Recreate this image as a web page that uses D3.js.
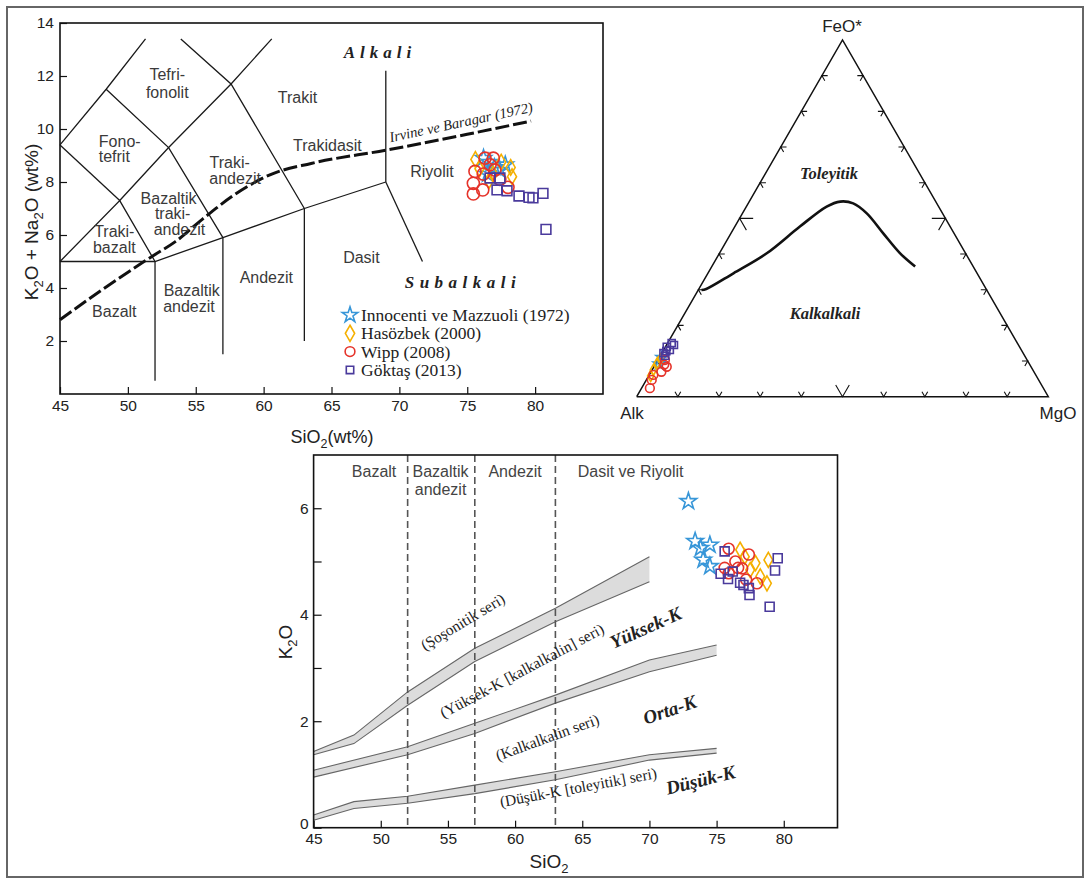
<!DOCTYPE html>
<html>
<head>
<meta charset="utf-8">
<script src="https://cdn.jsdelivr.net/npm/d3@7"></script>
<style>
  body { margin: 0; background: #fff; }
  svg { display: block; }
</style>
</head>
<body>
<svg id="chart" width="1087" height="881"></svg>
<script>
// ---- TAS diagram (SiO2 vs K2O+Na2O) ----
var tasXTicks = [45, 50, 55, 60, 65, 70, 75, 80];
var tasYTicks = [2, 4, 6, 8, 10, 12, 14];

// field boundaries, [SiO2, Na2O+K2O]
var tasLines = [
  [[45, 5], [52, 5], [57, 5.9], [63, 7], [69, 8]],
  [[52, 0.5], [52, 5]],
  [[57, 1.5], [57, 5.9]],
  [[63, 2.0], [63, 7]],
  [[69, 8], [69, 12.2]],
  [[69, 8], [71.7, 5.0]],
  [[45, 5], [49.4, 7.3], [52, 5]],
  [[45, 9.4], [49.4, 7.3]],
  [[45, 9.4], [48.4, 11.5], [51.3, 13.4]],
  [[48.4, 11.5], [53, 9.3], [57, 5.9]],
  [[49.4, 7.3], [53, 9.3], [57.6, 11.7], [60.6, 13.4]],
  [[53.9, 13.4], [57.6, 11.7], [63, 7]]
];

// Irvine & Baragar alkaline / subalkaline divide
var irvineCurve = [[45, 2.8], [48, 3.9], [51.8, 5.2], [53.5, 5.75], [55.5, 6.6], [57.8, 7.5],
  [60.6, 8.3], [63.5, 8.7], [69, 9.2], [75, 9.8], [79.7, 10.3]];

var tasFields = [
  ["Tefri-", 52.9, 12.05], ["fonolit", 52.9, 11.4],
  ["Trakit", 62.5, 11.2],
  ["Fono-", 49.4, 9.55], ["tefrit", 49.0, 8.95],
  ["Traki-", 57.5, 8.75], ["andezit", 57.9, 8.15],
  ["Trakidasit", 64.7, 9.4],
  ["Riyolit", 72.4, 8.4],
  ["Bazaltik", 53.0, 7.4], ["traki-", 53.3, 6.8], ["andezit", 53.8, 6.2],
  ["Traki-", 49.0, 6.15], ["bazalt", 49.0, 5.55],
  ["Dasit", 67.2, 5.15],
  ["Andezit", 60.2, 4.4],
  ["Bazaltik", 54.7, 3.9], ["andezit", 54.5, 3.3],
  ["Bazalt", 49.0, 3.1]
];

var tasStars = [[76.2, 8.9], [76.6, 8.75], [77.0, 8.55], [76.5, 8.3], [77.4, 8.45], [77.8, 8.65]];
var tasDiamonds = [[75.6, 8.85], [75.9, 8.5], [76.9, 8.3], [77.5, 8.75], [78.2, 8.55], [78.3, 8.2], [76.6, 8.05]];
var tasCircles = [[75.57, 8.4], [75.45, 7.95], [75.45, 7.55], [76.14, 7.7], [76.18, 8.3], [76.92, 8.9],
  [76.31, 8.9], [77.04, 8.45], [76.68, 8.65], [77.4, 8.1], [78.0, 7.8]];
var tasSquares = [[76.68, 8.15], [77.41, 8.15], [77.19, 7.7], [77.93, 7.67], [78.81, 7.47],
  [79.55, 7.42], [79.84, 7.4], [80.58, 7.57], [80.8, 6.21]];

var legendNames = ["Innocenti ve Mazzuoli (1972)", "Hasözbek (2000)", "Wipp (2008)", "Göktaş (2013)"];

// ---- AFM ternary, values [FeO*, MgO] in % (Alk = rest) ----
var afmCurve = [[29.9, 0.8], [30.2, 1.8], [34.6, 6.2], [40.2, 11.5], [47.7, 15.8], [53.3, 19.5], [54.7, 22.1],
  [54.2, 25.5], [51.4, 30.2], [45.8, 37.0], [40.2, 43.9], [36.5, 49.4]];
var afmTicks = [10, 20, 30, 40, 50, 60, 70, 80, 90];
var afmStars = [[11.0, 0.6], [9.2, 0.8]];
var afmDiamonds = [[7.5, 0.3], [9.4, 0.3], [5.8, 0.5], [10.5, 0.5]];
var afmCircles = [[2.4, 2.0], [4.7, 1.3], [6.1, 1.0], [8.4, 3.1], [10.3, 1.7], [7.0, 2.5], [9.0, 2.2]];
var afmSquares = [[12.2, 0.4], [14.0, 0.3], [15.0, 1.0], [13.1, 1.5], [11.5, 1.2], [14.5, 1.8], [12.8, 0.8]];

// ---- SiO2 vs K2O ----
var kXTicks = [45, 50, 55, 60, 65, 70, 75, 80];
var kYTicks = [0, 1, 2, 3, 4, 5, 6];
var kDividers = [52, 57, 63];
var kRocks = [["Bazalt", 49.5], ["Bazaltik", 54.45], ["Andezit", 60], ["Dasit ve Riyolit", 68.6]];

var bandShoSi = [45, 48, 52, 57, 63, 70];
var bandShoHi = [1.43, 1.74, 2.55, 3.37, 4.12, 5.09];
var bandShoLo = [1.37, 1.58, 2.30, 3.12, 3.87, 4.62];
var bandMedSi = [45, 52, 57, 63, 70, 75];
var bandMedHi = [1.08, 1.52, 1.96, 2.49, 3.15, 3.43];
var bandMedLo = [0.95, 1.37, 1.77, 2.34, 2.93, 3.24];
var bandLowSi = [45, 48, 52, 57, 63, 70, 75];
var bandLowHi = [0.24, 0.49, 0.59, 0.80, 1.05, 1.37, 1.49];
var bandLowLo = [0.14, 0.36, 0.46, 0.64, 0.90, 1.27, 1.40];

var seriesLabels = [
  ["(Şoşonitik seri)", 56.1, 3.87, -31, false],
  ["(Yüksek-K [kalkalkalin] seri)", 60.5, 2.95, -28, false],
  ["Yüksek-K", 69.7, 3.76, -24, true],
  ["(Kalkalkalin seri)", 62.4, 1.70, -20, false],
  ["Orta-K", 71.5, 2.22, -19, true],
  ["(Düşük-K [toleyitik] seri)", 64.7, 0.76, -10.5, false],
  ["Düşük-K", 73.8, 0.90, -14, true]
];

var kStars = [[72.9, 6.13], [73.4, 5.38], [74.5, 5.31], [74.0, 5.03], [74.5, 4.91], [73.8, 5.25]];
var kDiamonds = [[76.75, 5.22], [77.1, 5.09], [77.5, 4.84], [77.9, 4.97], [78.25, 4.72], [78.85, 5.03], [78.75, 4.59]];
var kCircles = [[75.9, 5.24], [77.4, 5.13], [76.4, 5.0], [75.6, 4.88], [75.9, 4.78], [77.2, 4.66],
  [78.0, 4.59], [76.6, 4.88], [76.9, 4.87]];
var kSquares = [[75.6, 5.19], [75.3, 4.77], [75.85, 4.67], [76.2, 4.81], [76.75, 4.6], [77.0, 4.56],
  [77.4, 4.5], [77.45, 4.37], [78.95, 4.15], [79.35, 4.83], [79.55, 5.06]];

// ---------------------------------------------------------------
var SANS = "'Liberation Sans', Arial, sans-serif";
var SERIF = "'Liberation Serif', 'Times New Roman', serif";
var COL = { star: "#3796d8", diamond: "#f5b000", circle: "#e5332a", square: "#4a3a9c" };
var SHAPE = { star: d3.symbolStar, diamond: d3.symbolDiamond, circle: d3.symbolCircle, square: d3.symbolSquare };

var svg = d3.select("#chart");
svg.append("rect").attr("width", 1087).attr("height", 881).attr("fill", "#fff");
svg.append("rect").attr("x", 7).attr("y", 7).attr("width", 1076).attr("height", 870)
  .attr("fill", "none").attr("stroke", "#666").attr("stroke-width", 2);

function drawPoints(g, pts, kind, size, px, py) {
  g.append("g").selectAll("path").data(pts).enter().append("path")
    .attr("d", d3.symbol().type(SHAPE[kind]).size(size))
    .attr("transform", function (d) { return "translate(" + px(d) + "," + py(d) + ")"; })
    .attr("fill", "none")
    .attr("stroke", COL[kind])
    .attr("stroke-width", 1.6);
}

function styleAxis(g, fs) {
  g.select(".domain").remove();
  g.selectAll(".tick line").attr("stroke", "#111").attr("stroke-width", 1.2);
  g.selectAll(".tick text").attr("font-family", SANS).attr("font-size", fs).attr("fill", "#222");
}

// subscript helper: parts like ["K", "2", "O"] -> alternate normal/sub
function subText(t, parts, subSize) {
  parts.forEach(function (p, i) {
    var ts = t.append("tspan").text(p);
    if (i % 2 === 1) ts.attr("font-size", subSize).attr("dy", 5);
    else if (i > 0) ts.attr("dy", -5);
  });
}

// ================= TAS =================
var tx = d3.scaleLinear().domain([45, 85]).range([60, 603]);
var ty = d3.scaleLinear().domain([0, 14]).range([394, 23]);
var gT = svg.append("g");

gT.append("g").attr("transform", "translate(0,394)")
  .call(d3.axisBottom(tx).tickValues(tasXTicks).tickSizeInner(-7).tickSizeOuter(0).tickPadding(6))
  .call(styleAxis, "15.5px");
gT.append("g").attr("transform", "translate(60,0)")
  .call(d3.axisLeft(ty).tickValues(tasYTicks).tickSizeInner(-7).tickSizeOuter(0).tickPadding(6))
  .call(styleAxis, "15.5px");
gT.append("rect").attr("x", 60).attr("y", 23).attr("width", 543).attr("height", 371)
  .attr("fill", "none").attr("stroke", "#111").attr("stroke-width", 1.6);

var tLine = d3.line().x(function (d) { return tx(d[0]); }).y(function (d) { return ty(d[1]); });
gT.append("g").selectAll("path").data(tasLines).enter().append("path")
  .attr("d", tLine).attr("fill", "none").attr("stroke", "#1a1a1a").attr("stroke-width", 1.3);

gT.append("path").datum(irvineCurve)
  .attr("d", tLine.curve(d3.curveMonotoneX))
  .attr("fill", "none").attr("stroke", "#111").attr("stroke-width", 3)
  .attr("stroke-dasharray", "14,4");
tLine.curve(d3.curveLinear);

gT.append("text").attr("transform", "translate(462,127) rotate(-12)")
  .attr("text-anchor", "middle").attr("font-family", SERIF).attr("font-style", "italic")
  .attr("font-size", "14.5px").attr("fill", "#222").text("Irvine ve Baragar (1972)");

gT.append("g").selectAll("text").data(tasFields).enter().append("text")
  .attr("x", function (d) { return tx(d[1]); })
  .attr("y", function (d) { return ty(d[2]); })
  .attr("dy", "0.35em").attr("text-anchor", "middle")
  .attr("font-family", SANS).attr("font-size", "16px").attr("fill", "#3a3a3a")
  .text(function (d) { return d[0]; });

gT.append("text").attr("x", 380).attr("y", 58).attr("text-anchor", "middle")
  .attr("font-family", SERIF).attr("font-weight", "bold").attr("font-style", "italic")
  .attr("font-size", "17px").attr("letter-spacing", "5px").attr("fill", "#222").text("Alkali");
gT.append("text").attr("x", 463).attr("y", 288).attr("text-anchor", "middle")
  .attr("font-family", SERIF).attr("font-weight", "bold").attr("font-style", "italic")
  .attr("font-size", "17px").attr("letter-spacing", "5.5px").attr("fill", "#222").text("Subalkali");

var tpx = function (d) { return tx(d[0]); }, tpy = function (d) { return ty(d[1]); };
drawPoints(gT, tasStars, "star", 80, tpx, tpy);
drawPoints(gT, tasDiamonds, "diamond", 70, tpx, tpy);
drawPoints(gT, tasCircles, "circle", 115, tpx, tpy);
drawPoints(gT, tasSquares, "square", 95, tpx, tpy);

// legend
var kinds = ["star", "diamond", "circle", "square"];
var lg = gT.append("g").attr("transform", "translate(350,315)");
kinds.forEach(function (k, i) {
  lg.append("path").attr("d", d3.symbol().type(SHAPE[k]).size(k === "square" ? 55 : 75))
    .attr("transform", "translate(0," + (i * 18.3) + ")")
    .attr("fill", "none").attr("stroke", COL[k]).attr("stroke-width", 1.6);
  lg.append("text").attr("x", 11).attr("y", i * 18.3).attr("dy", "0.35em")
    .attr("font-family", SERIF).attr("font-size", "17.5px").attr("fill", "#222")
    .text(legendNames[i]);
});

var tyl = gT.append("text").attr("transform", "translate(38,222) rotate(-90)")
  .attr("text-anchor", "middle").attr("font-family", SANS).attr("font-size", "19px").attr("fill", "#222");
subText(tyl, ["K", "2", "O + Na", "2", "O (wt%)"], "13px");
var txl = gT.append("text").attr("x", 332).attr("y", 443).attr("text-anchor", "middle")
  .attr("font-family", SANS).attr("font-size", "18px").attr("fill", "#222");
subText(txl, ["SiO", "2", "(wt%)"], "12.5px");

// ================= AFM =================
var aX = d3.scaleLinear().domain([0, 100]).range([636.7, 1048.3]);
var aY = d3.scaleLinear().domain([0, 100]).range([396.7, 40]);
var apx = function (d) { return aX(d[1] + d[0] / 2); };
var apy = function (d) { return aY(d[0]); };
var gA = svg.append("g");
var aLine = d3.line().x(apx).y(apy);

gA.append("path").datum([[0, 0], [100, 0], [0, 100], [0, 0]])
  .attr("d", aLine).attr("fill", "none").attr("stroke", "#111").attr("stroke-width", 1.5);

// chevron ticks; each entry: [arm end, vertex, arm end] in [F, M]
var chev = [];
afmTicks.forEach(function (t) {
  var d = t === 50 ? 3.3 : 1.4;
  chev.push([[d, t], [0, t], [d, t - d]]);                       // base
  chev.push([[t, d], [t, 0], [t - d, d]]);                       // Alk-FeO side
  chev.push([[t, 100 - t - d], [t, 100 - t], [t - d, 100 - t]]); // FeO-MgO side
});
gA.append("g").selectAll("path").data(chev).enter().append("path")
  .attr("d", aLine).attr("fill", "none").attr("stroke", "#111").attr("stroke-width", 1.1);

gA.append("path").datum(afmCurve)
  .attr("d", d3.line().x(apx).y(apy).curve(d3.curveCatmullRom))
  .attr("fill", "none").attr("stroke", "#111").attr("stroke-width", 2.6);

gA.append("text").attr("x", 842).attr("y", 32).attr("text-anchor", "middle")
  .attr("font-family", SANS).attr("font-size", "17px").attr("fill", "#222").text("FeO*");
gA.append("text").attr("x", 632).attr("y", 419).attr("text-anchor", "middle")
  .attr("font-family", SANS).attr("font-size", "17px").attr("fill", "#222").text("Alk");
gA.append("text").attr("x", 1058).attr("y", 419).attr("text-anchor", "middle")
  .attr("font-family", SANS).attr("font-size", "17px").attr("fill", "#222").text("MgO");
gA.append("text").attr("x", 829).attr("y", 179).attr("text-anchor", "middle")
  .attr("font-family", SERIF).attr("font-weight", "bold").attr("font-style", "italic")
  .attr("font-size", "16.5px").attr("fill", "#222").text("Toleyitik");
gA.append("text").attr("x", 825).attr("y", 319).attr("text-anchor", "middle")
  .attr("font-family", SERIF).attr("font-weight", "bold").attr("font-style", "italic")
  .attr("font-size", "16.5px").attr("fill", "#222").text("Kalkalkali");

drawPoints(gA, afmStars, "star", 40, apx, apy);
drawPoints(gA, afmDiamonds, "diamond", 35, apx, apy);
drawPoints(gA, afmCircles, "circle", 60, apx, apy);
drawPoints(gA, afmSquares, "square", 50, apx, apy);

// ================= SiO2 - K2O =================
var kx = d3.scaleLinear().domain([45, 84]).range([313.6, 837.5]);
var ky = d3.scaleLinear().domain([0, 7]).range([827.7, 455]);
var gK = svg.append("g");

gK.append("g").attr("transform", "translate(0,827.7)")
  .call(d3.axisBottom(kx).tickValues(kXTicks).tickSizeInner(-7).tickSizeOuter(0).tickPadding(5))
  .call(styleAxis, "15.5px");
gK.append("g").attr("transform", "translate(313.6,0)")
  .call(d3.axisLeft(ky).tickValues(kYTicks).tickSizeInner(-8).tickSizeOuter(0).tickPadding(5)
    .tickFormat(function (d) { return d % 2 === 0 ? d : ""; }))
  .call(styleAxis, "15.5px")
  .selectAll(".tick text").filter(function (d) { return d === 0; }).attr("dy", "0.05em");

function band(si, hi, lo) {
  return si.map(function (s, i) { return { x: s, hi: hi[i], lo: lo[i] }; });
}
var bands = [band(bandShoSi, bandShoHi, bandShoLo), band(bandMedSi, bandMedHi, bandMedLo), band(bandLowSi, bandLowHi, bandLowLo)];
var bArea = d3.area().x(function (d) { return kx(d.x); })
  .y0(function (d) { return ky(d.lo); }).y1(function (d) { return ky(d.hi); });
var bHi = d3.line().x(function (d) { return kx(d.x); }).y(function (d) { return ky(d.hi); });
var bLo = d3.line().x(function (d) { return kx(d.x); }).y(function (d) { return ky(d.lo); });
var gb = gK.append("g");
bands.forEach(function (b) {
  gb.append("path").datum(b).attr("d", bArea).attr("fill", "#dcdcdc");
  gb.append("path").datum(b).attr("d", bHi).attr("fill", "none").attr("stroke", "#666").attr("stroke-width", 1.1);
  gb.append("path").datum(b).attr("d", bLo).attr("fill", "none").attr("stroke", "#666").attr("stroke-width", 1.1);
});

gK.append("g").selectAll("line").data(kDividers).enter().append("line")
  .attr("x1", function (d) { return kx(d); }).attr("x2", function (d) { return kx(d); })
  .attr("y1", ky(7)).attr("y2", ky(0))
  .attr("stroke", "#555").attr("stroke-width", 1.6).attr("stroke-dasharray", "7,4");

gK.append("rect").attr("x", 313.6).attr("y", 455).attr("width", 523.9).attr("height", 372.7)
  .attr("fill", "none").attr("stroke", "#111").attr("stroke-width", 1.6);

gK.append("g").selectAll("text").data(kRocks).enter().append("text")
  .attr("x", function (d) { return kx(d[1]); }).attr("y", 477)
  .attr("text-anchor", "middle").attr("font-family", SANS).attr("font-size", "16px").attr("fill", "#444")
  .text(function (d) { return d[0]; });
gK.append("text").attr("x", kx(54.45)).attr("y", 495).attr("text-anchor", "middle")
  .attr("font-family", SANS).attr("font-size", "16px").attr("fill", "#444").text("andezit");

gK.append("g").selectAll("text").data(seriesLabels).enter().append("text")
  .attr("transform", function (d) { return "translate(" + kx(d[1]) + "," + ky(d[2]) + ") rotate(" + d[3] + ")"; })
  .attr("text-anchor", "middle").attr("dy", "0.35em")
  .attr("font-family", SERIF)
  .attr("font-size", function (d) { return d[4] ? "19px" : "15.5px"; })
  .attr("font-weight", function (d) { return d[4] ? "bold" : "normal"; })
  .attr("font-style", function (d) { return d[4] ? "italic" : "normal"; })
  .attr("fill", "#222")
  .text(function (d) { return d[0]; });

var kpx = function (d) { return kx(d[0]); }, kpy = function (d) { return ky(d[1]); };
drawPoints(gK, kStars, "star", 85, kpx, kpy);
drawPoints(gK, kDiamonds, "diamond", 65, kpx, kpy);
drawPoints(gK, kCircles, "circle", 95, kpx, kpy);
drawPoints(gK, kSquares, "square", 80, kpx, kpy);

var kyl = gK.append("text").attr("transform", "translate(292,642) rotate(-90)")
  .attr("text-anchor", "middle").attr("font-family", SANS).attr("font-size", "19px").attr("fill", "#222");
subText(kyl, ["K", "2", "O"], "13px");
var kxl = gK.append("text").attr("x", 549).attr("y", 868).attr("text-anchor", "middle")
  .attr("font-family", SANS).attr("font-size", "19px").attr("fill", "#222");
subText(kxl, ["SiO", "2"], "13px");
</script>
</body>
</html>
